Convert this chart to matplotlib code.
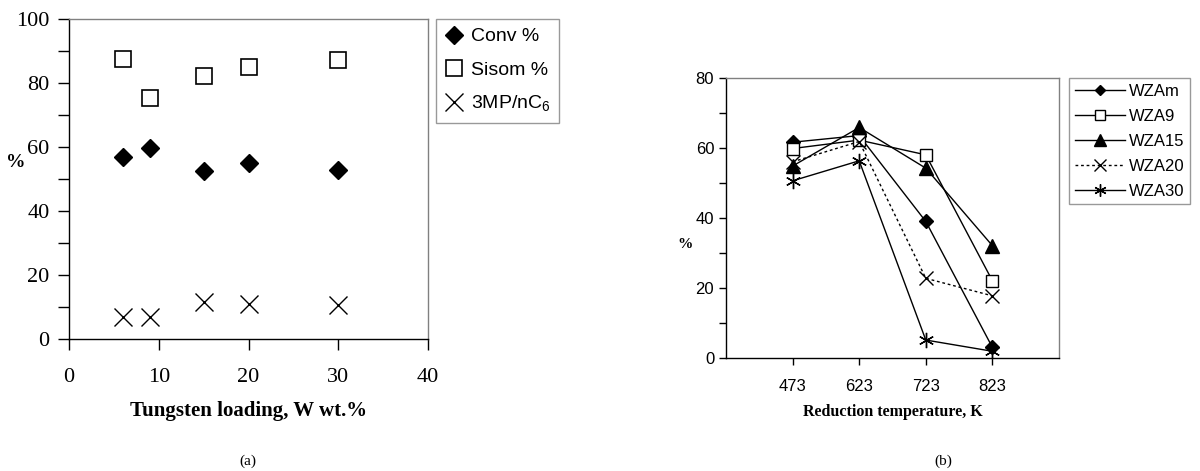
import matplotlib
matplotlib.use('Agg')
import matplotlib.pyplot as plt

# panel (a): tungsten loading
loading = [6, 9, 15, 20, 30]
conv = [57.0, 59.6, 52.5, 55.1, 52.9]
sisom = [87.5, 75.2, 82.2, 84.9, 87.1]
ratio_3mp = [7.0, 7.0, 11.7, 10.9, 10.6]

# panel (b): reduction temperature
temps = ['473', '623', '723', '823']
wzam = [61.6, 63.5, 39.0, 3.1]
wza9 = [59.8, 62.2, 58.0, 22.1]
wza15 = [54.8, 65.8, 54.2, 32.1]
wza20 = [56.0, 61.8, 22.8, 17.8]
wza30 = [50.6, 56.3, 5.2, 2.0]

SERIF = 'Liberation Serif'
SANS = 'Liberation Sans'
GRAY = '#808080'

fig = plt.figure(figsize=(12, 4.71), dpi=100)
fig.patch.set_facecolor('white')


def style_spines(ax):
    for side in ('top', 'right'):
        ax.spines[side].set_color(GRAY)
        ax.spines[side].set_linewidth(1.0)
    for side in ('left', 'bottom'):
        ax.spines[side].set_color('black')
        ax.spines[side].set_linewidth(1.0)


# ---------- (a) ----------
ax1 = fig.add_axes([0.0575, 0.2803, 0.2992, 0.6794])
ax1.plot(loading, conv, linestyle='none', marker='D', markersize=9,
         color='black', label='Conv %')
ax1.plot(loading, sisom, linestyle='none', marker='s', markersize=11.5,
         markerfacecolor='white', markeredgecolor='black', markeredgewidth=1.2,
         label='Sisom %')
ax1.plot(loading, ratio_3mp, linestyle='none', marker='x', markersize=13,
         markeredgewidth=1.0, color='black', label='3MP/nC$_{\\mathregular{6}}$')
ax1.set_xlim(0, 40)
ax1.set_ylim(0, 100)
ax1.set_xticks([0, 10, 20, 30, 40])
ax1.set_yticks([0, 20, 40, 60, 80, 100])
ax1.set_yticks(range(10, 100, 20), minor=True)
ax1.tick_params(axis='both', direction='out', length=8, width=1, labelsize=16, pad=6)
ax1.tick_params(axis='y', which='minor', direction='out', length=8, width=1)
ax1.tick_params(axis='x', pad=13)
for lab in ax1.get_xticklabels() + ax1.get_yticklabels():
    lab.set_fontfamily(SERIF)
style_spines(ax1)
ax1.set_xlabel('Tungsten loading, W wt.%', fontfamily=SERIF, fontweight='bold',
               fontsize=15, labelpad=10)
fig.text(16 / 1200, 1 - 163 / 471, '%', fontfamily=SERIF, fontweight='bold',
         fontsize=14, ha='center', va='center')

leg1 = ax1.legend(loc='upper left', bbox_to_anchor=(436 / 1200, 1 - 19 / 471),
                  bbox_transform=fig.transFigure, frameon=True, fancybox=False,
                  edgecolor=GRAY, prop={'family': SANS, 'size': 14},
                  handlelength=1.0, handletextpad=0.35, labelspacing=0.8,
                  borderpad=0.45, borderaxespad=0)
leg1.get_frame().set_linewidth(1.0)

# ---------- (b) ----------
ax2 = fig.add_axes([0.605, 0.2393, 0.2775, 0.5958])
xpos = list(range(1, len(temps) + 1))
ax2.plot(xpos, wzam, color='black', lw=1, marker='D', markersize=7,
         label='WZAm')
ax2.plot(xpos, wza9, color='black', lw=1, marker='s', markersize=9,
         markerfacecolor='white', markeredgecolor='black', label='WZA9')
ax2.plot(xpos, wza15, color='black', lw=1, marker='^', markersize=10,
         label='WZA15')
ax2.plot(xpos, wza20, color='black', lw=1, linestyle=(0, (2, 2)), marker='x',
         markersize=10, markeredgewidth=1, label='WZA20')
ax2.plot(xpos, wza30, color='black', lw=1, marker=(6, 2, 0), markersize=11,
         markeredgewidth=1, label='WZA30')
ax2.set_xlim(0, 5)
ax2.set_ylim(0, 80)
ax2.set_xticks(xpos)
ax2.set_xticklabels(temps)
ax2.set_yticks([0, 20, 40, 60, 80])
ax2.set_yticks([10, 30, 50, 70], minor=True)
ax2.tick_params(axis='both', direction='out', length=5, width=1, labelsize=12)
ax2.tick_params(axis='y', which='minor', direction='out', length=5, width=1)
ax2.tick_params(axis='x', pad=10)
for lab in ax2.get_xticklabels() + ax2.get_yticklabels():
    lab.set_fontfamily(SANS)
style_spines(ax2)
ax2.set_xlabel('Reduction temperature, K', fontfamily=SERIF, fontweight='bold',
               fontsize=11.5, labelpad=7)
fig.text(685 / 1200, 1 - 245 / 471, '%', fontfamily=SERIF, fontweight='bold',
         fontsize=11, ha='center', va='center')

leg2 = ax2.legend(loc='upper left', bbox_to_anchor=(1069 / 1200, 1 - 77.7 / 471),
                  bbox_transform=fig.transFigure, frameon=True, fancybox=False,
                  edgecolor=GRAY, prop={'family': SANS, 'size': 12},
                  handlelength=3.0, handletextpad=0.25, labelspacing=0.6,
                  borderpad=0.35, borderaxespad=0, markerscale=0.8)
leg2.get_frame().set_linewidth(1.0)

# panel captions
fig.text(248 / 1200, 1 - 461 / 471, '(a)', fontfamily=SERIF, fontsize=11,
         ha='center', va='center')
fig.text(943 / 1200, 1 - 461 / 471, '(b)', fontfamily=SERIF, fontsize=11,
         ha='center', va='center')

fig.savefig('out.png', dpi=100)
